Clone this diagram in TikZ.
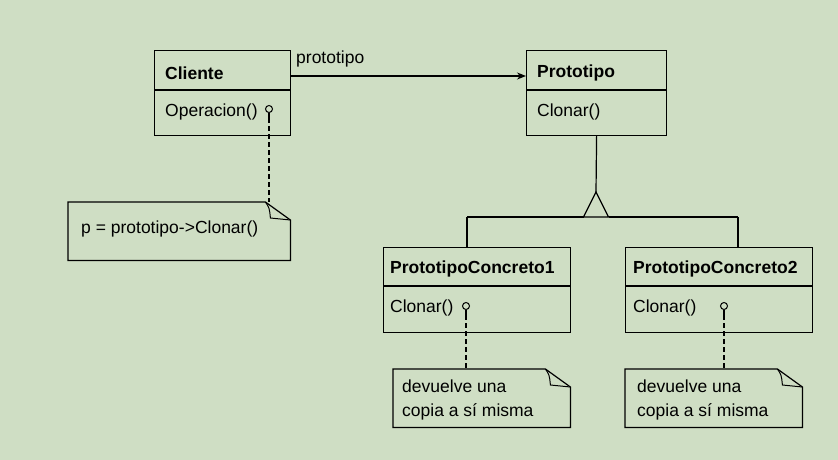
\documentclass[tikz,border=0pt]{standalone}
\usepackage{fontspec}
\setmainfont{Liberation Sans}
\usetikzlibrary{arrows.meta,calc}
\definecolor{bg}{RGB}{207,222,196}
\begin{document}
\begin{tikzpicture}[x=1pt,y=-1pt,
  cls/.style={draw, line width=1.2pt, inner sep=0, anchor=north west, minimum width=#1, minimum height=85pt},
  notebox/.style={inner sep=0, anchor=north west, minimum width=#1, minimum height=58pt},
  txt/.style={anchor=west, inner sep=0, font=\fontsize{17.5}{21}\selectfont},
  ttl/.style={anchor=west, inner sep=0, font=\fontsize{17.5}{21}\selectfont\bfseries},
  ln/.style={line width=1.2pt},
  dsh/.style={line width=1.2pt, dash pattern=on 4.5pt off 3.5pt},
  pin/.style={circle, draw, line width=1pt, inner sep=0, minimum size=7pt}
]
\fill[bg] (0,0) rectangle (838,460);
\useasboundingbox (0,0) rectangle (838,460);

% classes
\node[cls=136pt] (cli) at (154,50) {};
\node[cls=140pt] (pro) at (526,50) {};
\node[cls=187pt] (pc1) at (383,247) {};
\node[cls=187pt] (pc2) at (625,247) {};
\draw[ln] ($(cli.north west)+(0,40)$) -- ($(cli.north east)+(0,40)$);
\draw[ln] ($(pro.north west)+(0,40)$) -- ($(pro.north east)+(0,40)$);
\draw[ln] ($(pc1.north west)+(0,39)$) -- ($(pc1.north east)+(0,39)$);
\draw[ln] ($(pc2.north west)+(0,39)$) -- ($(pc2.north east)+(0,39)$);

\node[ttl] (clit) at (165,73) {Cliente};
\node[txt] (clio) at (165,112) {Operacion()};
\node[ttl] (prot) at (537,73) {Prototipo};
\node[txt] (proc) at (537,112) {Clonar()};
\node[ttl] (pc1t) at (390,269) {PrototipoConcreto1};
\node[txt] (pc1c) at (390,308) {Clonar()};
\node[ttl] (pc2t) at (633,269) {PrototipoConcreto2};
\node[txt] (pc2c) at (633,308) {Clonar()};

% association
\draw[ln, -{Stealth[length=9pt,width=7pt]}] ($(cli.north east)+(0,26)$) -- ($(pro.north west)+(0,26)$);
\node[txt, anchor=south west] (asl) at (296,67) {prototipo};

% generalization
\coordinate (apex) at (596,192);
\coordinate (lb) at (583.5,217);
\coordinate (rb) at (608.5,217);
\coordinate (hl) at (467,217);
\coordinate (hr) at (738,217);
\draw[ln] (pro.south) -- (apex);
\draw[ln, line join=miter] (apex) -- (lb) -- (rb) -- cycle;
\draw[ln] (hl) -- (lb);
\draw[ln] (rb) -- (hr);
\draw[ln] (hl) -- (hl |- pc1.north);
\draw[ln] (hr) -- (hr |- pc2.north);

% notes
\node[notebox=222pt] (n0) at (68,202) {};
\node[notebox=177pt] (n1) at (393,369) {};
\node[notebox=177pt] (n2) at (625,369) {};
\foreach \n in {n0,n1,n2}{
  \draw[ln, line join=miter] (\n.north west) -- ($(\n.north east)+(-25,0)$) -- ($(\n.north east)+(0,18)$) -- (\n.south east) -- (\n.south west) -- cycle;
  \draw[line width=1pt] ($(\n.north east)+(-25,0)$) .. controls ($(\n.north east)+(-21,6)$) .. ($(\n.north east)+(-20,16)$) -- ($(\n.north east)+(0,18)$);
}
\node[txt] (n0t) at (81,229) {p = prototipo->Clonar()};
\node[txt, anchor=north west, align=left, font=\fontsize{17.5}{24}\selectfont] (n1t) at (402,380) {devuelve una\\copia a sí misma};
\node[txt, anchor=north west, align=left, font=\fontsize{17.5}{24}\selectfont] (n2t) at (637,380) {devuelve una\\copia a sí misma};

% pins and dashed note links
\node[pin] (p0) at (269,109) {};
\node[pin] (p1) at (466,306) {};
\node[pin] (p2) at (724,306) {};
\draw[ln] (p0.south) -- ++(0,5) coordinate (p0e);
\draw[ln] (p1.south) -- ++(0,5) coordinate (p1e);
\draw[ln] (p2.south) -- ++(0,5) coordinate (p2e);
\draw[dsh] (p0e) -- (p0e |- n0.north);
\draw[dsh] (p1e) -- (p1e |- n1.north);
\draw[dsh] (p2e) -- (p2e |- n2.north);
\end{tikzpicture}
\end{document}
